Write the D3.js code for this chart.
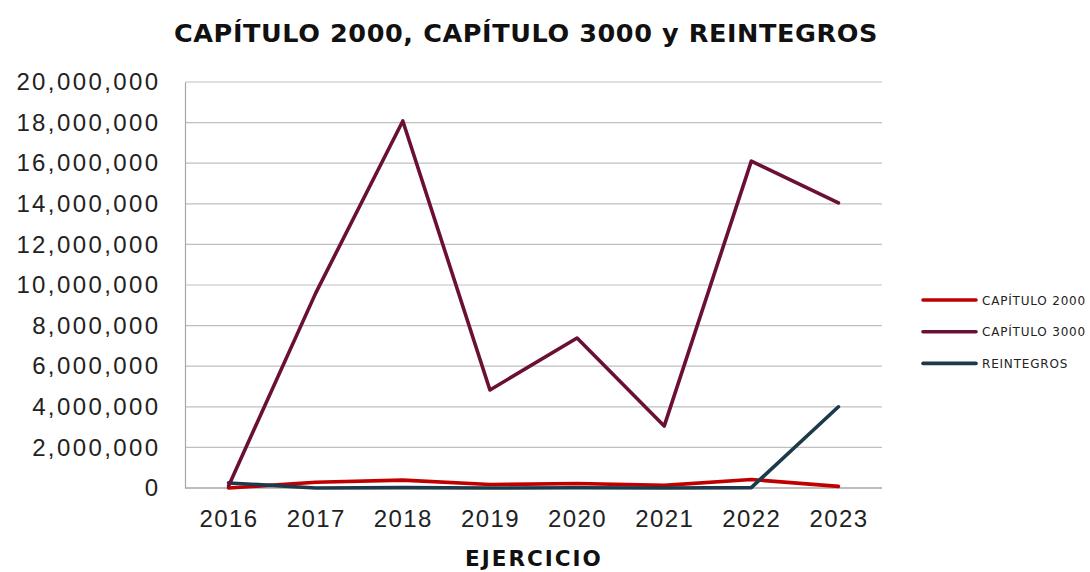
<!DOCTYPE html>
<html>
<head>
<meta charset="utf-8">
<script src="https://cdn.jsdelivr.net/npm/d3@7"></script>
<style>
  body { margin: 0; background: #fff; }
  svg { font-family: "DejaVu Sans", sans-serif; }
</style>
</head>
<body>
<div id="chart"></div>
<script>
const years = ["2016", "2017", "2018", "2019", "2020", "2021", "2022", "2023"];
const capitulo2000 = [0, 280000, 390000, 170000, 220000, 130000, 420000, 80000];
const capitulo3000 = [100000, 9600000, 18080000, 4830000, 7390000, 3050000, 16100000, 14040000];
const reintegros = [250000, 0, 20000, 0, 10000, 0, 20000, 4000000];
const yTicks = [0, 2000000, 4000000, 6000000, 8000000, 10000000, 12000000, 14000000, 16000000, 18000000, 20000000];

const seriesNames = ["CAPÍTULO 2000", "CAPÍTULO 3000", "REINTEGROS"];
const seriesColors = ["#c00000", "#6b1035", "#1d3a4a"];
const series = [capitulo2000, capitulo3000, reintegros];

const width = 1090, height = 572;
const marginLeft = 185, marginRight = 208, marginTop = 82, marginBottom = 84;

const svg = d3.select("#chart").append("svg")
  .attr("width", width)
  .attr("height", height);

const x = d3.scalePoint(years, [marginLeft, width - marginRight]).padding(0.5);
const y = d3.scaleLinear([0, 20000000], [height - marginBottom, marginTop]);

// grid lines
svg.append("g")
  .selectAll("line")
  .data(yTicks.slice(1))
  .join("line")
  .attr("x1", marginLeft)
  .attr("x2", width - marginRight)
  .attr("y1", d => y(d))
  .attr("y2", d => y(d))
  .attr("stroke", "#bfbfbf")
  .attr("stroke-width", 1.2);

// y axis
svg.append("g")
  .attr("transform", `translate(${marginLeft},0)`)
  .call(d3.axisLeft(y).tickValues(yTicks).tickFormat(d3.format(",")).tickSize(0).tickPadding(24.5))
  .call(g => g.select(".domain").attr("stroke", "#a6a6a6").attr("stroke-width", 1.2))
  .call(g => g.selectAll("text").attr("font-size", 24).attr("letter-spacing", 2.4).attr("fill", "#222"));

// x axis
svg.append("g")
  .attr("transform", `translate(0,${height - marginBottom})`)
  .call(d3.axisBottom(x).tickSize(0).tickPadding(22))
  .call(g => g.select(".domain").attr("stroke", "#a6a6a6").attr("stroke-width", 1.5)
    .attr("d", `M${marginLeft},0H${width - marginRight}`))
  .call(g => g.selectAll("text").attr("font-size", 24).attr("letter-spacing", 1.4).attr("fill", "#222"));

// lines
const line = d3.line()
  .x((d, i) => x(years[i]))
  .y(d => y(d));

svg.append("g")
  .selectAll("path")
  .data([0, 2, 1])
  .join("path")
  .attr("fill", "none")
  .attr("stroke", i => seriesColors[i])
  .attr("stroke-width", 3.6)
  .attr("stroke-linejoin", "round")
  .attr("stroke-linecap", "round")
  .attr("d", i => line(series[i]));

// title
svg.append("text")
  .attr("x", 526)
  .attr("y", 42)
  .attr("text-anchor", "middle")
  .attr("font-size", 25.5)
  .attr("letter-spacing", 0.6)
  .attr("font-weight", "bold")
  .attr("fill", "#111")
  .text("CAPÍTULO 2000, CAPÍTULO 3000 y REINTEGROS");

// x axis title
svg.append("text")
  .attr("x", 534)
  .attr("y", 566)
  .attr("text-anchor", "middle")
  .attr("font-size", 21.5)
  .attr("letter-spacing", 2)
  .attr("font-weight", "bold")
  .attr("fill", "#111")
  .text("EJERCICIO");

// legend
const legend = svg.append("g")
  .selectAll("g")
  .data(seriesNames)
  .join("g")
  .attr("transform", (d, i) => `translate(923,${300 + i * 31.7})`);

legend.append("line")
  .attr("x1", 0)
  .attr("x2", 53)
  .attr("stroke", (d, i) => seriesColors[i])
  .attr("stroke-width", 3.6)
  .attr("stroke-linecap", "round");

legend.append("text")
  .attr("x", 59)
  .attr("y", 4.5)
  .attr("font-size", 12)
  .attr("letter-spacing", 0.8)
  .attr("fill", "#222")
  .text(d => d);
</script>
</body>
</html>
